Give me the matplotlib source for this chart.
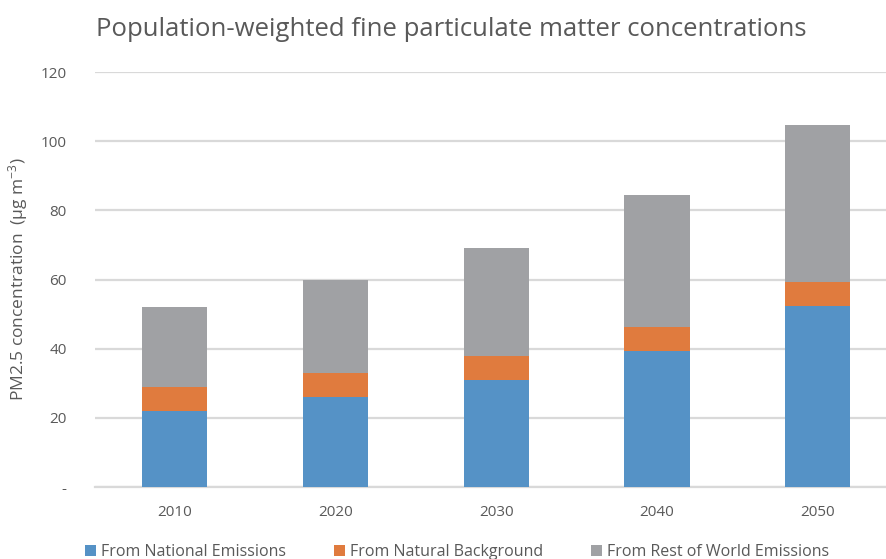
import matplotlib
matplotlib.use("Agg")
import matplotlib.pyplot as plt
import numpy as np

years = ["2010", "2020", "2030", "2040", "2050"]
national = [22, 26, 31, 39.3, 52.3]
natural = [7, 7, 7, 7, 7]
rest_world = [23, 27, 31, 38, 45.3]
series_names = ["From National Emissions", "From Natural Background", "From Rest of World Emissions"]
ytick_vals = [0, 20, 40, 60, 80, 100, 120]
ytick_labels = ["-", "20", "40", "60", "80", "100", "120"]

plt.rcParams['font.family'] = ['Open Sans', 'DejaVu Sans']
plt.rcParams['mathtext.fontset'] = 'custom'
plt.rcParams['mathtext.rm'] = 'Open Sans'
plt.rcParams['mathtext.it'] = 'Open Sans'
txt = '#595959'

fig = plt.figure(figsize=(8.87, 5.59), dpi=100)
W, H = 887, 559
axw = 898 - 94.6
ax = fig.add_axes([94.6 / W, 1 - 487 / H, axw / W, (487 - 72) / H])

x = np.arange(len(years))
w = 0.405
cols = ['#5592C6', '#E07B3E', '#A0A1A4']
b1 = np.array(national)
b2 = b1 + np.array(natural)
ax.bar(x, national, w, color=cols[0], label=series_names[0], zorder=3)
ax.bar(x, natural, w, bottom=b1, color=cols[1], label=series_names[1], zorder=3)
ax.bar(x, rest_world, w, bottom=b2, color=cols[2], label=series_names[2], zorder=3)

ax.set_xlim(-0.5, 4.5)
ax.set_ylim(0, 120)
ax.set_yticks(ytick_vals)
ax.set_yticklabels(ytick_labels)
ax.set_xticks(x)
ax.set_xticklabels(years)
ax.grid(axis='y', color='#D9D9D9', linewidth=1.6, zorder=0)
for s in ['top', 'right', 'left']:
    ax.spines[s].set_visible(False)
ax.spines['bottom'].set_color('#D9D9D9')
ax.spines['bottom'].set_linewidth(1.6)
ax.tick_params(axis='both', length=0, colors=txt, labelsize=11)
ax.tick_params(axis='y', pad=20)
ax.tick_params(axis='x', pad=13)

ax.set_ylabel("PM2.5 concentration  (µg m$^{\\mathrm{-3}}$)", color=txt, fontsize=12.5)
ax.yaxis.set_label_coords(-(94.6 - 30) / axw, 0.5)

fig.text(451 / W, 1 - 30 / H, "Population-weighted fine particulate matter concentrations",
         ha='center', va='center', fontsize=18.5, color=txt)

fig.legend(loc='center', bbox_to_anchor=(457 / W, 1 - 552 / H), ncol=3, frameon=False,
           fontsize=11.5, labelcolor=txt, handlelength=0.7, handleheight=0.7,
           handletextpad=0.3, columnspacing=3.0)

fig.savefig("out.png", dpi=100)
